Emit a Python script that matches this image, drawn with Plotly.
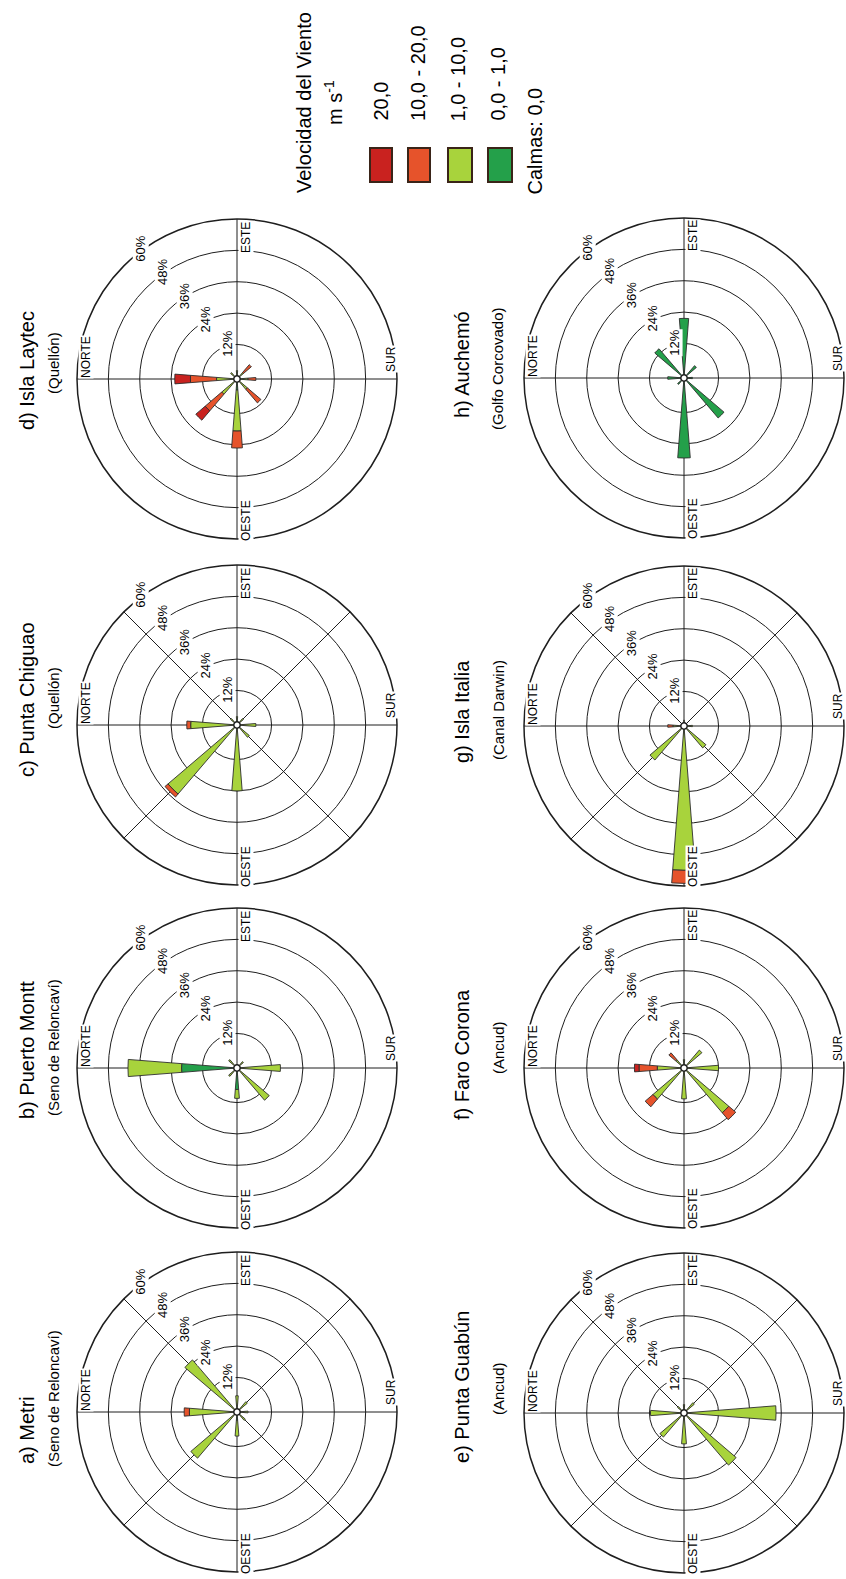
import math
import plotly.graph_objects as go

W, H = 846, 1579

# ---------------- data ----------------
DIRS = ["N", "NNE", "NE", "ENE", "E", "ESE", "SE", "SSE",
        "S", "SSW", "SW", "WSW", "W", "WNW", "NW", "NNW"]
THETA = [0, 22.5, 45, 67.5, 90, 112.5, 135, 157.5,
         180, 202.5, 225, 247.5, 270, 292.5, 315, 337.5]

CLASSES = ["0,0 - 1,0", "1,0 - 10,0", "10,0 - 20,0", "20,0"]

TITLES = ["a) Metri", "b) Puerto Montt", "c) Punta Chiguao", "d) Isla Laytec",
          "e) Punta Guabún", "f) Faro Corona", "g) Isla Italia", "h) Auchemó"]
SUBTITLES = ["(Seno de Reloncaví)", "(Seno de Reloncaví)", "(Quellón)", "(Quellón)",
             "(Ancud)", "(Ancud)", "(Canal Darwin)", "(Golfo Corcovado)"]

RADIAL_TICKS = [12, 24, 36, 48, 60]
RADIAL_TEXT = ["12%", "24%", "36%", "48%", "60%"]

# frequencies (%) by direction, per speed class
A_0_1   = [0, 0, 0, 0, 0, 0, 0, 0, 0, 0, 0, 0, 2, 0, 0, 0]
A_1_10  = [17, 0, 25, 0, 5, 0, 4, 0, 3, 0, 3, 0, 6, 0, 22, 0]
A_10_20 = [2, 0, 0, 0, 0, 0, 0, 0, 0, 0, 0, 0, 0, 0, 0, 0]
A_20    = [0, 0, 0, 0, 0, 0, 0, 0, 0, 0, 0, 0, 0, 0, 0, 0]

B_0_1   = [20, 0, 0, 0, 0, 0, 0, 0, 0, 0, 0, 0, 7, 0, 0, 0]
B_1_10  = [20.5, 0, 3, 0, 0, 0, 2, 0, 15.4, 0, 15, 0, 3.4, 0, 3, 0]
B_10_20 = [0, 0, 0, 0, 0, 0, 0, 0, 0, 0, 0, 0, 0, 0, 0, 0]
B_20    = [0, 0, 0, 0, 0, 0, 0, 0, 0, 0, 0, 0, 0, 0, 0, 0]

C_0_1   = [0, 0, 0, 0, 0, 0, 0, 0, 0, 0, 0, 0, 0, 0, 0, 0]
C_1_10  = [16.5, 0, 2, 0, 2, 0, 2, 0, 6, 0, 5, 0, 24, 0, 33.5, 0]
C_10_20 = [1.5, 0, 0, 0, 0, 0, 0, 0, 0, 0, 0, 0, 0, 0, 1.5, 0]
C_20    = [0, 0, 0, 0, 0, 0, 0, 0, 0, 0, 0, 0, 0, 0, 0, 0]

D_0_1   = [0, 0, 0, 0, 0, 0, 0, 0, 0, 0, 0, 0, 3, 0, 0, 0]
D_1_10  = [6.6, 0, 2, 0, 2, 0, 2, 0, 3, 0, 4, 0, 15.7, 0, 6.5, 0]
D_10_20 = [10, 0, 0, 0, 0, 0, 4, 0, 3, 0, 6.8, 0, 6.5, 0, 8.3, 0]
D_20    = [6, 0, 0, 0, 0, 0, 0, 0, 0, 0, 0, 0, 0, 0, 4.7, 0]

E_0_1   = [0, 0, 0, 0, 0, 0, 0, 0, 0, 0, 0, 0, 0, 0, 0, 0]
E_1_10  = [11.6, 0, 2, 0, 2, 0, 4, 0, 34, 0, 25, 0, 10.6, 0, 10.9, 0]
E_10_20 = [0, 0, 0, 0, 0, 0, 0, 0, 0, 0, 0, 0, 0, 0, 0, 0]
E_20    = [0, 0, 0, 0, 0, 0, 0, 0, 0, 0, 0, 0, 0, 0, 0, 0]

F_0_1   = [0, 0, 0, 0, 0, 0, 0, 0, 0, 0, 0, 0, 0, 0, 0, 0]
F_1_10  = [9, 0, 3, 0, 2, 0, 7.8, 0, 12, 0, 21.3, 0, 10.6, 0, 14.4, 0]
F_10_20 = [7, 0, 3.4, 0, 0, 0, 0, 0, 0, 0, 3.5, 0, 0, 0, 3.9, 0]
F_20    = [1.75, 0, 0, 0, 0, 0, 0, 0, 0, 0, 0, 0, 0, 0, 0, 0]

G_0_1   = [0, 0, 0, 0, 0, 0, 0, 0, 0, 0, 0, 0, 0, 0, 0, 0]
G_1_10  = [3, 0, 0, 0, 1, 0, 0, 0, 2, 0, 9.8, 0, 54, 0, 15.9, 0]
G_10_20 = [2, 0, 0, 0, 0, 0, 0, 0, 0, 0, 0, 0, 5, 0, 0, 0]
G_20    = [0, 0, 0, 0, 0, 0, 0, 0, 0, 0, 0, 0, 0, 0, 0, 0]

H_0_1   = [5, 0, 13.5, 0, 21.6, 0, 5, 0, 2, 0, 18.9, 0, 29.4, 0, 2, 0]
H_1_10  = [0, 0, 0, 0, 0, 0, 0, 0, 0, 0, 0, 0, 0, 0, 0, 0]
H_10_20 = [0, 0, 0, 0, 0, 0, 0, 0, 0, 0, 0, 0, 0, 0, 0, 0]
H_20    = [0, 0, 0, 0, 0, 0, 0, 0, 0, 0, 0, 0, 0, 0, 0, 0]

STATIONS = [
    [A_0_1, A_1_10, A_10_20, A_20],
    [B_0_1, B_1_10, B_10_20, B_20],
    [C_0_1, C_1_10, C_10_20, C_20],
    [D_0_1, D_1_10, D_10_20, D_20],
    [E_0_1, E_1_10, E_10_20, E_20],
    [F_0_1, F_1_10, F_10_20, F_20],
    [G_0_1, G_1_10, G_10_20, G_20],
    [H_0_1, H_1_10, H_10_20, H_20],
]

# ---------------- layout / styles ----------------
COLORS = ["#24a04a", "#a8d33c", "#e6532b", "#c9221f"]
LINE = "#1e1e1e"
FONT = "Liberation Sans, Arial, sans-serif"

R = 160
CX = [237, 237, 237, 237, 684, 684, 684, 684]
CY = [1412, 1068, 725, 379, 1413, 1068, 726, 378]
DIAGONALS = [True, False, True, False, True, False, True, False]
TITLE_X = [27, 27, 27, 27, 462, 462, 462, 462]
SUB_X = [53, 53, 53, 53, 498, 498, 498, 498]
TITLE_Y = [1430, 1050, 700, 371, 1387, 1055, 712, 365]
SUB_Y = [1398, 1047, 698, 363, 1388, 1047, 710, 368]


def px(x, y):
    return x / W, 1 - y / H


fig = go.Figure()
annotations = []
shapes = []

for k in range(8):
    pname = "polar" if k == 0 else f"polar{k + 1}"
    for c in range(4):
        fig.add_trace(go.Barpolar(
            r=STATIONS[k][c], theta=THETA, width=9,
            marker=dict(color=COLORS[c], line=dict(color="#2e2e2e", width=0.9)),
            name=CLASSES[c], showlegend=False, subplot=pname,
            hoverinfo="skip"))
    cx, cy = CX[k], CY[k]
    x0, y1 = px(cx - R, cy - R)
    x1, y0 = px(cx + R, cy + R)
    ang_ticks = [0, 45, 90, 135, 180, 225, 270, 315] if DIAGONALS[k] else [0, 90, 180, 270]
    fig.update_layout(**{pname: dict(
        domain=dict(x=[x0, x1], y=[y0, y1]),
        bgcolor="white",
        hole=0.02,
        barmode="stack",
        angularaxis=dict(rotation=180, direction="clockwise",
                         tickvals=ang_ticks, showticklabels=False, ticks="",
                         showgrid=True, gridcolor=LINE, gridwidth=1.4,
                         showline=True, linecolor=LINE, linewidth=1.5),
        radialaxis=dict(range=[0, 60], tickvals=RADIAL_TICKS[:-1],
                        showticklabels=False, ticks="", showline=False,
                        showgrid=True, gridcolor=LINE, gridwidth=1.4),
    )})

    # titles
    tx, ty = px(TITLE_X[k], TITLE_Y[k])
    annotations.append(dict(x=tx, y=ty, xref="paper", yref="paper", text=TITLES[k],
                            textangle=-90, showarrow=False, xanchor="center", yanchor="middle",
                            font=dict(family=FONT, size=20, color="black")))
    sx, sy = px(SUB_X[k], SUB_Y[k])
    annotations.append(dict(x=sx, y=sy, xref="paper", yref="paper", text=SUBTITLES[k],
                            textangle=-90, showarrow=False, xanchor="center", yanchor="middle",
                            font=dict(family=FONT, size=15, color="black")))

    # cardinal labels
    for lab, dx, dy in [("NORTE", -151, -22), ("ESTE", 9, -142),
                        ("OESTE", 9, 141), ("SUR", 154, -20)]:
        lx, ly = px(cx + dx, cy + dy)
        annotations.append(dict(x=lx, y=ly, xref="paper", yref="paper", text=lab,
                                textangle=-90, showarrow=False, xanchor="center",
                                yanchor="middle", bgcolor="white", borderpad=0,
                                font=dict(family=FONT, size=12, color="black")))

    # radial tick labels along NE diagonal
    for v, t in zip(RADIAL_TICKS, RADIAL_TEXT):
        rr = v / 60 * R
        off = 17 + 0.045 * rr
        lx = cx - rr / math.sqrt(2) + off / math.sqrt(2)
        ly = cy - rr / math.sqrt(2) - off / math.sqrt(2)
        ax, ay = px(lx, ly)
        annotations.append(dict(x=ax, y=ay, xref="paper", yref="paper", text=t,
                                textangle=-90, showarrow=False, xanchor="center",
                                yanchor="middle", bgcolor="white", borderpad=0,
                                font=dict(family=FONT, size=13, color="black")))

# ---------------- legend ----------------
lx, ly = px(304, 103)
annotations.append(dict(x=lx, y=ly, xref="paper", yref="paper", text="Velocidad del Viento",
                        textangle=-90, showarrow=False, xanchor="center", yanchor="middle",
                        font=dict(family=FONT, size=20, color="black")))
lx, ly = px(333, 103)
annotations.append(dict(x=lx, y=ly, xref="paper", yref="paper", text="m s<sup>-1</sup>",
                        textangle=-90, showarrow=False, xanchor="center", yanchor="middle",
                        font=dict(family=FONT, size=20, color="black")))

LEG_LABELS = ["20,0", "10,0 - 20,0", "1,0 - 10,0", "0,0 - 1,0"]
LEG_COLORS = [COLORS[3], COLORS[2], COLORS[1], COLORS[0]]
LEG_TEXT_X = [380, 418, 457, 497]
LEG_BOX_X = [(370, 392), (408, 430), (448, 472), (488, 512)]
for lab, col, tx, (bx0, bx1) in zip(LEG_LABELS, LEG_COLORS, LEG_TEXT_X, LEG_BOX_X):
    ax, ay = px(tx, 123)
    annotations.append(dict(x=ax, y=ay, xref="paper", yref="paper", text=lab,
                            textangle=-90, showarrow=False, xanchor="center", yanchor="bottom",
                            font=dict(family=FONT, size=20, color="black")))
    sx0, sy1 = px(bx0, 148)
    sx1, sy0 = px(bx1, 182)
    shapes.append(dict(type="rect", xref="paper", yref="paper",
                       x0=sx0, x1=sx1, y0=sy0, y1=sy1, fillcolor=col,
                       line=dict(color="#3a2418", width=2)))
ax, ay = px(535, 197)
annotations.append(dict(x=ax, y=ay, xref="paper", yref="paper", text="Calmas: 0,0",
                        textangle=-90, showarrow=False, xanchor="center", yanchor="bottom",
                        font=dict(family=FONT, size=20, color="black")))

fig.update_layout(
    width=W, height=H,
    margin=dict(l=0, r=0, t=0, b=0),
    paper_bgcolor="white",
    plot_bgcolor="white",
    showlegend=False,
    annotations=annotations,
    shapes=shapes,
    font=dict(family=FONT),
)

fig.write_html(
    "out.html",
    config={"displayModeBar": False},
    post_script="document.body.style.margin='0';document.body.style.overflow='hidden';",
)
